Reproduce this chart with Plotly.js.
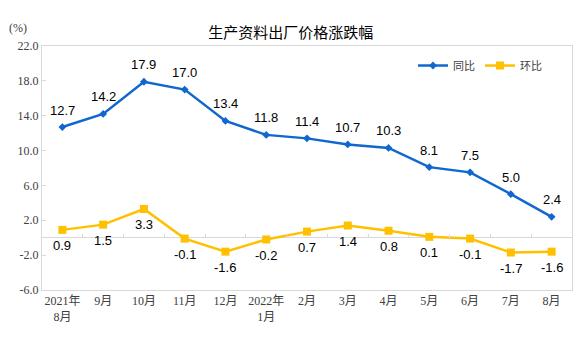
<!DOCTYPE html>
<html>
<head>
<meta charset="utf-8">
<script src="https://cdn.plot.ly/plotly-3.0.1.min.js"></script>
<style>html,body{margin:0;padding:0;background:#fff;}#chart{width:576px;height:343px;}</style>
</head>
<body>
<div id="chart"></div>
<script>
var categories = ["2021年<br>8月","9月","10月","11月","12月","2022年<br>1月","2月","3月","4月","5月","6月","7月","8月"];
var yoyValues = [12.7,14.2,17.9,17.0,13.4,11.8,11.4,10.7,10.3,8.1,7.5,5.0,2.4];
var momValues = [0.9,1.5,3.3,-0.1,-1.6,-0.2,0.7,1.4,0.8,0.1,-0.1,-1.7,-1.6];
var yTicks = [-6,-2,2,6,10,14,18,22];

var blue = "#0F67CF";
var yellow = "#FFC000";

var traces = [
  {x: categories, y: yoyValues, name: "同比", type: "scatter", mode: "lines+markers",
   line: {color: blue, width: 2.5}, marker: {symbol: "diamond", size: 6, color: blue}},
  {x: categories, y: momValues, name: "环比", type: "scatter", mode: "lines+markers",
   line: {color: yellow, width: 2.5}, marker: {symbol: "square", size: 8, color: yellow}},
  {x: categories, y: momValues, xaxis: "x2", type: "scatter", mode: "none", showlegend: false, hoverinfo: "skip"}
];

var annotations = [];
yoyValues.forEach(function(v, i){
  annotations.push({x: categories[i], y: v, text: v.toFixed(1), showarrow: false, yshift: 17,
    font: {family: "Liberation Sans, Arial", size: 13, color: "#000"}});
});
momValues.forEach(function(v, i){
  annotations.push({x: categories[i], y: v, text: v.toFixed(1), showarrow: false, yshift: -16,
    font: {family: "Liberation Sans, Arial", size: 13, color: "#000"}});
});
annotations.push({xref: "paper", yref: "paper", x: -0.046, y: 1.11, xanchor: "center", text: "(%)", showarrow: false,
  font: {family: "Liberation Serif, Noto Sans CJK SC", size: 12, color: "#404040"}});

var nCat = categories.length;
var layout = {
  width: 576, height: 343,
  margin: {l: 42, r: 4, t: 46, b: 53},
  paper_bgcolor: "#fff", plot_bgcolor: "#fff",
  title: {text: "生产资料出厂价格涨跌幅", x: 0.505, xanchor: "center", y: 0.905, yanchor: "middle",
    font: {family: "Noto Sans CJK SC", size: 15, color: "#000"}},
  showlegend: true,
  legend: {orientation: "h", x: 0.7, y: 0.92, xanchor: "left", yanchor: "middle",
    font: {family: "Noto Sans CJK SC", size: 11, color: "#404040"}, bgcolor: "rgba(0,0,0,0)",
    itemwidth: 30, tracegroupgap: 0},
  xaxis: {type: "category", range: [-0.5, nCat - 0.5], autorange: false,
    showline: true, mirror: true, linecolor: "#d9d9d9", linewidth: 1,
    ticks: "", showgrid: false, zeroline: false,
    tickfont: {family: "Liberation Serif, Noto Sans CJK SC", size: 12, color: "#404040"}},
  xaxis2: {type: "category", overlaying: "x", anchor: "free", position: 6/28,
    range: [-0.5, nCat - 0.5], autorange: false,
    showline: false, showgrid: false, ticks: "inside", ticklen: 4, tickcolor: "#d9d9d9",
    tickson: "boundaries", showticklabels: false, zeroline: false},
  yaxis: {range: [-6, 22], tickvals: yTicks, ticktext: yTicks.map(function(t){return t.toFixed(1);}),
    showline: true, mirror: true, linecolor: "#d9d9d9", linewidth: 1,
    ticks: "inside", ticklen: 4, tickcolor: "#d9d9d9", showgrid: false,
    zeroline: true, zerolinecolor: "#d9d9d9", zerolinewidth: 1,
    tickfont: {family: "Liberation Serif, Noto Sans CJK SC", size: 12, color: "#404040"}},
  annotations: annotations
};

Plotly.newPlot("chart", traces, layout, {displayModeBar: false, staticPlot: true});
</script>
</body>
</html>
